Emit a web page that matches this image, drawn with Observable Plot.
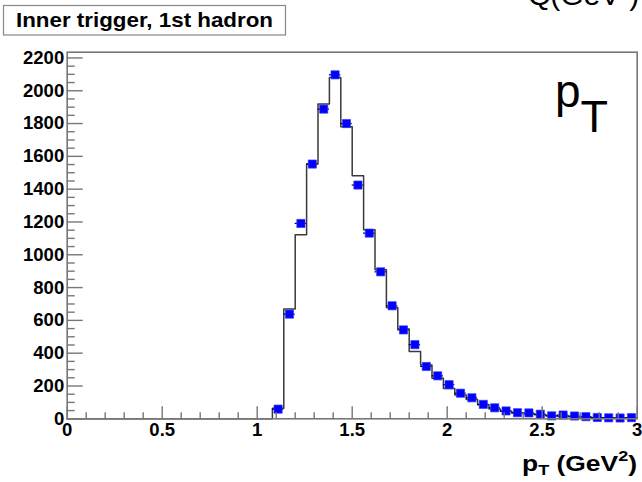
<!DOCTYPE html>
<html>
<head>
<meta charset="utf-8">
<script src="https://cdn.jsdelivr.net/npm/d3@7"></script>
<script src="https://cdn.jsdelivr.net/npm/@observablehq/plot@0.6"></script>
<style>
  html, body { margin: 0; padding: 0; background: #fff; }
  #chart { width: 642px; height: 482px; }
  #chart svg { display: block; }
</style>
</head>
<body>
<div id="chart"></div>
<script>
// Histogram binning: 50 bins of width 0.06 on [0, 3]
const binWidth = 0.06;
const binCenters = [1.11, 1.17, 1.23, 1.29, 1.35, 1.41, 1.47, 1.53, 1.59, 1.65,
                    1.71, 1.77, 1.83, 1.89, 1.95, 2.01, 2.07, 2.13, 2.19, 2.25,
                    2.31, 2.37, 2.43, 2.49, 2.55, 2.61, 2.67, 2.73, 2.79, 2.85,
                    2.91, 2.97];
// Measured counts (blue markers)
const dataCounts = [59, 638, 1191, 1553, 1888, 2097, 1800, 1425, 1132, 896,
                    689, 542, 452, 319, 262, 208, 156, 128, 88, 67,
                    48, 37, 36, 28, 18, 23, 17, 13, 8, 6,
                    5, 7];
// Reference histogram (black step line), same bins
const refCounts = [65, 669, 1122, 1553, 1919, 2081, 1780, 1482, 1152, 908,
                   679, 548, 411, 328, 247, 185, 145, 118, 86, 60,
                   46, 36, 30, 24, 18, 14, 12, 9, 6, 5,
                   3, 3];

const xMajor = [0, 0.5, 1, 1.5, 2, 2.5, 3];
const xLabels = ["0", "0.5", "1", "1.5", "2", "2.5", "3"];
const yMajor = [0, 200, 400, 600, 800, 1000, 1200, 1400, 1600, 1800, 2000, 2200];
const yLabels = ["0", "200", "400", "600", "800", "1000", "1200", "1400", "1600", "1800", "2000", "2200"];
const xMinor = d3.range(0, 3.0001, 0.1).filter(v => Math.abs(v * 2 - Math.round(v * 2)) > 1e-6);
const yMinor = d3.range(0, 2201, 50).filter(v => v % 200 !== 0);

const W = 642, H = 482;
const mLeft = 66.7, mRight = W - 636.7, mTop = 51.7, mBottom = H - 418.3;
const xDomain = [0, 3], yDomain = [0, 2235];
// pixel -> data-unit conversions for tick lengths
const xPerPx = (xDomain[1] - xDomain[0]) / (W - mLeft - mRight);
const yPerPx = (yDomain[1] - yDomain[0]) / (H - mTop - mBottom);

const points = binCenters.map((c, i) => ({c, n: dataCounts[i]}));
// step outline: rises from zero at the first non-empty bin edge
const steps = [{x: 0, y: 0}]
  .concat(binCenters.map((c, i) => ({x: c - binWidth / 2, y: refCounts[i]})))
  .concat([{x: binCenters[binCenters.length - 1] + binWidth / 2, y: refCounts[refCounts.length - 1]}]);

const axisColor = "#777";
const font = "'Liberation Sans', Arial, Helvetica, sans-serif";

const plot = Plot.plot({
  width: W,
  height: H,
  marginLeft: mLeft,
  marginRight: mRight,
  marginTop: mTop,
  marginBottom: mBottom,
  style: {background: "#fff", fontFamily: font, overflow: "visible"},
  x: {domain: xDomain, axis: null},
  y: {domain: yDomain, axis: null},
  marks: [
    // reference histogram
    Plot.line(steps, {x: "x", y: "y", curve: "step-after", stroke: "#3a3a3a", strokeWidth: 1.5}),
    // horizontal bin-width bars
    Plot.ruleY(points, {y: "n", x1: d => d.c - binWidth / 2, x2: d => d.c + binWidth / 2, stroke: "#000", strokeWidth: 1.2}),
    // markers
    Plot.dot(points, {x: "c", y: "n", symbol: "square", r: 4.6, fill: "#0000ff", stroke: "#3333ff", strokeWidth: 0.7}),
    // ticks (drawn inward)
    Plot.ruleY(yMajor, {y: d => d, x1: 0, x2: 16 * xPerPx, stroke: axisColor, strokeWidth: 1.4}),
    Plot.ruleY(yMinor, {y: d => d, x1: 0, x2: 8 * xPerPx, stroke: axisColor, strokeWidth: 1.4}),
    Plot.ruleX(xMajor, {x: d => d, y1: 0, y2: 12 * yPerPx, stroke: axisColor, strokeWidth: 1.4}),
    Plot.ruleX(xMinor, {x: d => d, y1: 0, y2: 6 * yPerPx, stroke: axisColor, strokeWidth: 1.4}),
    Plot.frame({stroke: axisColor, strokeWidth: 1.6}),
    // tick labels
    Plot.text(yMajor, {x: 0, y: d => d, text: (d, i) => yLabels[i], textAnchor: "end", dx: -3,
      fontSize: 18.5, fontWeight: "bold", fill: "#000", fontFamily: font}),
    Plot.text(xMajor, {x: d => d, frameAnchor: "bottom", text: (d, i) => xLabels[i], lineAnchor: "bottom", dy: 17,
      fontSize: 18.5, fontWeight: "bold", fill: "#000", fontFamily: font})
  ]
});

document.getElementById("chart").appendChild(plot);

// annotations: title box, in-frame label, axis title
const svg = d3.select(plot);
const g = svg.append("g").attr("font-family", font).attr("fill", "#000").attr("text-anchor", "start");

g.append("rect").attr("x", 3.5).attr("y", 5.5).attr("width", 282).attr("height", 29.5)
  .attr("fill", "#fff").attr("stroke", "#888").attr("stroke-width", 1.2);
g.append("text").attr("x", 16).attr("y", 26.7).attr("font-size", 21).attr("font-weight", "bold")
  .attr("textLength", 257).attr("lengthAdjust", "spacingAndGlyphs")
  .text("Inner trigger, 1st hadron");

const big = g.append("text").attr("x", 555).attr("y", 106.7).attr("font-size", 46);
big.append("tspan").text("p");
big.append("tspan").attr("font-size", 45).attr("dy", 25).text("T");

const axisTitle = g.append("text").attr("x", 522).attr("y", 470.7)
  .attr("font-size", 22).attr("font-weight", "bold")
  .attr("textLength", 115).attr("lengthAdjust", "spacingAndGlyphs");
axisTitle.append("tspan").text("p");
axisTitle.append("tspan").attr("font-size", 15).attr("dy", 4).text("T");
axisTitle.append("tspan").attr("dy", -4).text(" (GeV");
axisTitle.append("tspan").attr("font-size", 15).attr("dy", -10).text("2");
axisTitle.append("tspan").attr("dy", 10).text(")");

// partial heading at the top edge
const headText = g.append("text").attr("x", 528).attr("y", 5).attr("font-size", 30);
headText.append("tspan").text("Q");
headText.append("tspan").attr("font-size", 16).attr("dy", -16).attr("dx", -1).text("2");
headText.append("tspan").attr("dy", 16).attr("dx", -9).text("(GeV");
headText.append("tspan").attr("font-size", 16).attr("dy", -16).text("2");
headText.append("tspan").attr("dy", 16).text(")");
</script>
</body>
</html>
